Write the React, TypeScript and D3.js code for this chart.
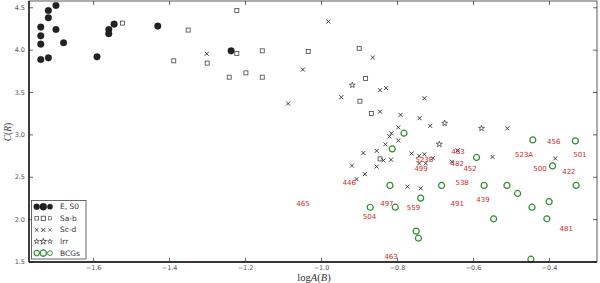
import * as d3 from 'd3';

const WIDTH = 600;
const HEIGHT = 283;
const PLOT = { left: 29, right: 597, top: 1, bottom: 262 };

// E, S0 galaxies
const ellX = [-1.699, -1.719, -1.719, -1.739, -1.699, -1.739, -1.739, -1.679, -1.739, -1.719, -1.591, -1.546, -1.56, -1.56, -1.431, -1.238];
const ellY = [4.527, 4.468, 4.382, 4.272, 4.244, 4.169, 4.071, 4.087, 3.889, 3.909, 3.921, 4.307, 4.244, 4.193, 4.284, 3.992];

// Sa-b
const sabX = [-1.524, -1.351, -1.389, -1.223, -1.223, -1.301, -1.156, -1.199, -1.243, -1.156, -1.035, -0.901, -0.884, -0.899, -0.869, -0.846];
const sabY = [4.319, 4.237, 3.874, 4.468, 3.96, 3.847, 3.992, 3.732, 3.681, 3.681, 3.984, 4.022, 3.665, 3.398, 3.252, 2.717];

// Sc-d
const scdX = [-1.302, -1.088, -0.982, -0.865, -1.049, -0.948, -0.846, -0.83, -0.846, -0.729, -0.792, -0.742, -0.714, -0.798, -0.511, -0.816, -0.821, -0.798, -0.832, -0.89, -0.855, -0.837, -0.817, -0.92, -0.855, -0.886, -0.908, -0.763, -0.743, -0.729, -0.707, -0.743, -0.726, -0.657, -0.642, -0.55, -0.385, -0.774, -0.739];
const scdY = [3.957, 3.37, 4.338, 3.913, 3.771, 3.445, 3.528, 3.552, 3.275, 3.433, 3.236, 3.197, 3.106, 3.089, 3.077, 3.02, 2.982, 2.933, 2.888, 2.787, 2.811, 2.699, 2.708, 2.637, 2.626, 2.537, 2.478, 2.781, 2.752, 2.772, 2.725, 2.663, 2.663, 2.683, 2.817, 2.74, 2.722, 2.389, 2.37];

// Irr
const irrX = [-0.919, -0.676, -0.69, -0.579];
const irrY = [3.587, 3.138, 2.89, 3.077];

// BCGs
const bcgX = [-0.783, -0.814, -0.444, -0.332, -0.592, -0.392, -0.82, -0.684, -0.572, -0.512, -0.33, -0.484, -0.739, -0.401, -0.872, -0.806, -0.446, -0.547, -0.407, -0.751, -0.745, -0.449];
const bcgY = [3.02, 2.835, 2.941, 2.929, 2.734, 2.634, 2.404, 2.404, 2.404, 2.404, 2.404, 2.309, 2.254, 2.212, 2.146, 2.147, 2.147, 2.01, 2.01, 1.864, 1.781, 1.533];

// BCG names
const labelText = ['456', '523A', '501', '500', '422', '483', '523B', '499', '482', '452', '446', '538', '465', '497', '559', '491', '439', '504', '481', '463'];
const labelX = [-0.389, -0.467, -0.32, -0.425, -0.349, -0.641, -0.729, -0.738, -0.643, -0.609, -0.927, -0.63, -1.049, -0.828, -0.758, -0.643, -0.575, -0.874, -0.356, -0.817];
const labelY = [2.911, 2.76, 2.76, 2.601, 2.557, 2.803, 2.702, 2.601, 2.657, 2.601, 2.429, 2.429, 2.181, 2.181, 2.141, 2.181, 2.236, 2.035, 1.892, 1.556];

const xTicks = [-1.6, -1.4, -1.2, -1.0, -0.8, -0.6, -0.4];
const yTicks = [1.5, 2.0, 2.5, 3.0, 3.5, 4.0, 4.5];

const legendNames = ['E, S0', 'Sa-b', 'Sc-d', 'Irr', 'BCGs'];

const GREEN = '#2e8b2e';
const RED = '#cc2a2a';
const TICK_LENGTH = 4;

const zip = (xs: number[], ys: number[]) => xs.map((x, i) => [x, ys[i]] as [number, number]);

const starPath = d3.symbol().type(d3.symbolStar).size(11)() as string;

function Marker({ kind, x, y, scale = 1 }: { kind: number; x: number; y: number; scale?: number }) {
  const t = `translate(${x},${y}) scale(${scale})`;
  if (kind === 0) return <circle transform={t} r={3.3} fill="#222" stroke="#111" strokeWidth={0.4} />;
  if (kind === 1)
    return <rect transform={t} x={-2} y={-2} width={4} height={4} fill="#fff" stroke="#444" strokeWidth={0.8} />;
  if (kind === 2)
    return <path transform={t} d="M-2,-2L2,2M-2,2L2,-2" stroke="#222" strokeWidth={0.85} fill="none" />;
  if (kind === 3) return <path transform={t} d={starPath} fill="#fff" stroke="#444" strokeWidth={0.8} />;
  return <circle transform={t} r={3} fill="none" stroke={GREEN} strokeWidth={1.2} />;
}

export default function App() {
  const x = d3.scaleLinear().domain([-1.77, -0.275]).range([PLOT.left, PLOT.right]);
  const y = d3.scaleLinear().domain([1.5, 4.58]).range([PLOT.bottom, PLOT.top]);

  const groups = [zip(ellX, ellY), zip(sabX, sabY), zip(scdX, scdY), zip(irrX, irrY), zip(bcgX, bcgY)];
  const fmt = (v: number) => d3.format('.1f')(v).replace('-', '\u2212');

  return (
    <>
      <style>{`body{margin:0}`}</style>
      <svg width={WIDTH} height={HEIGHT} style={{ display: 'block', background: '#fff' }}>
        {/* points */}
        {groups.map((pts, k) =>
          pts.map(([px, py], i) => <Marker key={`${k}-${i}`} kind={k} x={x(px)} y={y(py)} />),
        )}

        {/* red labels */}
        {labelText.map((t, i) => (
          <text
            key={t}
            x={x(labelX[i])}
            y={y(labelY[i])}
            fill={RED}
            fontSize={7}
            fontFamily="DejaVu Sans"
            textAnchor="middle"
            dominantBaseline="central"
          >
            {t}
          </text>
        ))}

        {/* frame */}
        <rect
          x={PLOT.left}
          y={PLOT.top}
          width={PLOT.right - PLOT.left}
          height={PLOT.bottom - PLOT.top}
          fill="none"
          stroke="#333"
          strokeWidth={0.8}
        />
        <line x1={PLOT.left} x2={PLOT.left} y1={PLOT.top} y2={PLOT.bottom} stroke="#111" strokeWidth={1.4} />
        <line x1={PLOT.left} x2={PLOT.right} y1={PLOT.bottom} y2={PLOT.bottom} stroke="#111" strokeWidth={1.4} />

        {/* ticks */}
        {xTicks.map(v => (
          <g key={v} transform={`translate(${x(v)},0)`}>
            <line y1={PLOT.bottom} y2={PLOT.bottom - TICK_LENGTH} stroke="#222" strokeWidth={0.7} />
            <line y1={PLOT.top} y2={PLOT.top + TICK_LENGTH} stroke="#222" strokeWidth={0.7} />
            <text y={268} fontSize={6.5} fill="#555" fontFamily="DejaVu Sans" textAnchor="middle" dominantBaseline="central">
              {fmt(v)}
            </text>
          </g>
        ))}
        {yTicks.map(v => (
          <g key={v} transform={`translate(0,${y(v)})`}>
            <line x1={PLOT.left} x2={PLOT.left + TICK_LENGTH} stroke="#222" strokeWidth={0.7} />
            <line x1={PLOT.right} x2={PLOT.right - TICK_LENGTH} stroke="#222" strokeWidth={0.7} />
            <text x={25} fontSize={6.5} fill="#555" fontFamily="DejaVu Sans" textAnchor="end" dominantBaseline="central">
              {fmt(v)}
            </text>
          </g>
        ))}

        {/* axis labels */}
        <text x={314} y={277} fontSize={10.5} fontFamily="Liberation Serif" textAnchor="middle" dominantBaseline="central" fill="#333">
          log<tspan fontStyle="italic">A</tspan>(<tspan fontStyle="italic">B</tspan>)
        </text>
        <text
          transform="translate(8,132) rotate(-90)"
          fontSize={9.5}
          fontFamily="Liberation Serif"
          textAnchor="middle"
          dominantBaseline="central"
          fill="#333"
        >
          <tspan fontStyle="italic">C</tspan>(<tspan fontStyle="italic">R</tspan>)
        </text>

        {/* legend */}
        <rect x={31.5} y={200.5} width={54.5} height={58.5} fill="#fff" stroke="#444" strokeWidth={0.8} />
        {legendNames.map((name, k) => {
          const ly = 206.7 + k * 11.6;
          return (
            <g key={name}>
              {[36.7, 43.3, 50].map((mx, j) => (
                <Marker key={j} kind={k} x={mx} y={ly} scale={[0.9, 1.05, 0.8][j]} />
              ))}
              <text x={60} y={ly} fontSize={7.5} fontFamily="DejaVu Sans" dominantBaseline="central" fill="#333">
                {name}
              </text>
            </g>
          );
        })}
      </svg>
    </>
  );
}
